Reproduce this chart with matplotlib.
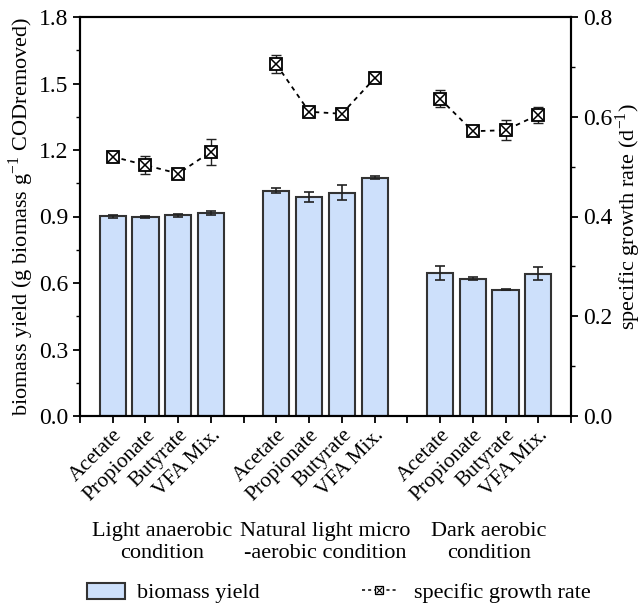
import numpy as np
import matplotlib.pyplot as plt
from matplotlib.legend_handler import HandlerTuple
from matplotlib.patches import Patch
from matplotlib.lines import Line2D

plt.rcParams['font.family'] = ['Liberation Serif', 'DejaVu Serif']
plt.rcParams['mathtext.fontset'] = 'stix'

substrates = ['Acetate', 'Propionate', 'Butyrate', 'VFA Mix.']
conditions = ['Light anaerobic\ncondition', 'Natural light micro\n-aerobic condition', 'Dark aerobic\ncondition']

yield_vals = [0.900, 0.897, 0.905, 0.915,
              1.017, 0.988, 1.008, 1.075,
              0.645, 0.620, 0.570, 0.642]
yield_err = [0.006, 0.004, 0.007, 0.010,
             0.012, 0.022, 0.033, 0.007,
             0.030, 0.007, 0.002, 0.030]
growth_vals = [0.520, 0.503, 0.486, 0.530,
               0.705, 0.610, 0.606, 0.677,
               0.636, 0.571, 0.573, 0.604]
growth_err = [0.004, 0.018, 0.005, 0.026,
              0.018, 0.005, 0.004, 0.005,
              0.017, 0.005, 0.020, 0.016]

pos = np.array([1, 2, 3, 4, 6, 7, 8, 9, 11, 12, 13, 14])
groups = [pos[0:4], pos[4:8], pos[8:12]]

fig = plt.figure(figsize=(6.42, 6.08), dpi=100)
ax = fig.add_axes([80/642, 1-416/608, 491/642, 399/608])
ax2 = ax.twinx()

ax.bar(pos, yield_vals, width=0.8, color='#cde0fb', edgecolor='#333333', linewidth=1.5,
       yerr=yield_err, error_kw=dict(ecolor='#222222', elinewidth=1.2, capsize=3.5, capthick=1.2), zorder=2)

for g in range(3):
    idx = slice(4*g, 4*g+4)
    ax2.errorbar(groups[g], growth_vals[idx], yerr=growth_err[idx], fmt='none',
                 ecolor='#222222', elinewidth=1.0, capsize=3.5, capthick=1.0, zorder=3)
    ax2.plot(groups[g], growth_vals[idx], ls=(0, (2.5, 2.5)), color='black', lw=1.3,
             marker='s', ms=8.5, mfc='white', mec='black', mew=1.3, zorder=4)
    ax2.plot(groups[g], growth_vals[idx], ls='none', marker='x', ms=6.5, mec='black',
             mew=1.1, zorder=5)

ax.set_xlim(0, 15)
ax.set_ylim(0, 1.8)
ax2.set_ylim(0, 0.8)
ax.set_yticks(np.arange(0, 1.81, 0.3))
ax.set_yticks(np.arange(0.15, 1.8, 0.3), minor=True)
ax.set_yticklabels([f'{v:.1f}' for v in np.arange(0, 1.81, 0.3)])
ax2.set_yticks(np.arange(0, 0.81, 0.2))
ax2.set_yticks(np.arange(0.1, 0.8, 0.2), minor=True)
ax2.set_yticklabels([f'{v:.1f}' for v in np.arange(0, 0.81, 0.2)])

ax.set_xticks(np.arange(0, 16))
ax.set_xticklabels(['', *substrates, '', *substrates, '', *substrates, ''],
                   rotation=45, ha='right', va='top', rotation_mode='anchor', fontsize=15)

for a in (ax, ax2):
    a.tick_params(which='major', direction='out', length=5, width=1.3, labelsize=17)
    a.tick_params(which='minor', direction='out', length=3, width=1.0)
    for s in a.spines.values():
        s.set_linewidth(1.5)
ax.tick_params(axis='x', labelsize=15.5, pad=2)

ax.set_ylabel('biomass yield (g biomass g$^{\\mathregular{-1}}$ CODremoved)', fontsize=16, labelpad=2)
ax2.set_ylabel('specific growth rate (d$^{\\mathregular{-1}}$)', fontsize=16, labelpad=1)

for g, name in enumerate(conditions):
    ax.text(groups[g].mean(), -0.48, name, ha='center', va='top', fontsize=16,
            linespacing=1.2, transform=ax.transData)

h_bar = Patch(facecolor='#cde0fb', edgecolor='#333333', linewidth=1.5)
h_line = (Line2D([], [], ls=(0, (2, 2)), color='black', lw=1.1),
          Line2D([], [], ls='none', marker='s', ms=5.5, mfc='white', mec='black', mew=0.9),
          Line2D([], [], ls='none', marker='x', ms=4, mec='black', mew=0.8))
fig.legend([h_bar], ['biomass yield'], loc='center left', bbox_to_anchor=(85/642, 1-593/608),
           frameon=False, fontsize=16, handlelength=1.7, handleheight=0.75, handletextpad=0.55,
           borderpad=0.1, borderaxespad=0)
fig.legend([h_line], ['specific growth rate'], loc='center left',
           bbox_to_anchor=(360/642, 1-593/608), frameon=False, fontsize=16,
           handlelength=1.5, handletextpad=0.85, borderpad=0.1, borderaxespad=0,
           handler_map={tuple: HandlerTuple(ndivide=1)})

fig.savefig('out.png', dpi=100)
